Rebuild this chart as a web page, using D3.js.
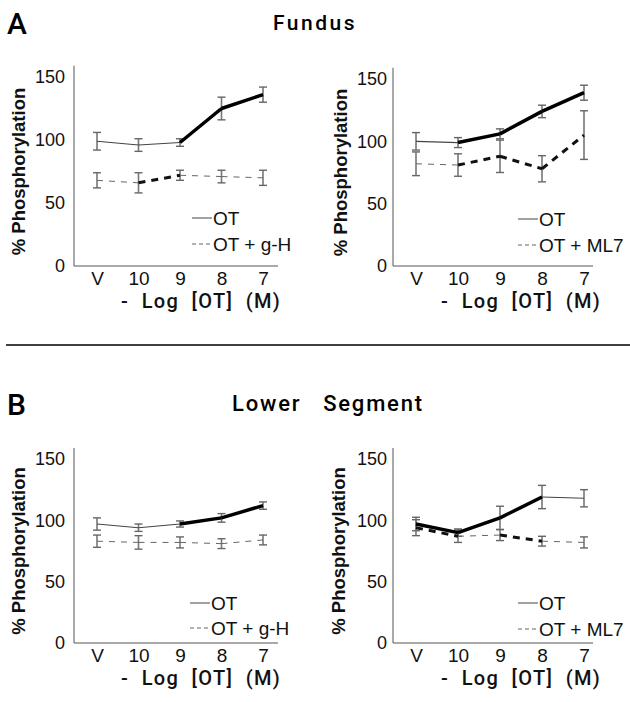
<!DOCTYPE html>
<html><head><meta charset="utf-8">
<script src="https://cdn.jsdelivr.net/npm/d3@7"></script>
<style>body{margin:0;background:#fff}</style>
</head><body>
<svg id="c" width="630" height="702"></svg>
<script>
// ---------- data ----------
const doses = ["V", "10", "9", "8", "7"];
const yTicks = [0, 50, 100, 150];

// Fundus: OT vs OT + g-H
const fundusOT1 = [99, 96, 98, 125, 136];
const fundusOT1Err = [7, 5, 3, 9, 6];
const fundusGH = [68, 66, 72, 71, 70];
const fundusGHErr = [6, 8, 4, 5, 6];
const fundusOT1Bold = [0, 0, 1, 1];
const fundusGHBold = [0, 1, 0, 0];

// Fundus: OT vs OT + ML7
const fundusOT2 = [100, 99, 106, 124, 139];
const fundusOT2Err = [7, 4, 4, 5, 6];
const fundusML7 = [82, 81, 88, 78, 105];
const fundusML7Err = [9.5, 9, 13, 10.5, 19.5];
const fundusOT2Bold = [0, 1, 1, 1];
const fundusML7Bold = [0, 1, 1, 1];

// Lower Segment: OT vs OT + g-H
const lowerOT1 = [97, 94, 97, 102, 112];
const lowerOT1Err = [5, 3, 2.5, 3.5, 3];
const lowerGH = [83, 82, 82, 81, 84];
const lowerGHErr = [5, 5.5, 4.5, 4, 4];
const lowerOT1Bold = [0, 0, 1, 1];
const lowerGHBold = [0, 0, 0, 0];

// Lower Segment: OT vs OT + ML7
const lowerOT2 = [97, 90, 102, 119, 118];
const lowerOT2Err = [5.5, 3, 9.5, 9.5, 7];
const lowerML7 = [94, 87, 88, 83, 82];
const lowerML7Err = [6.5, 5, 4.5, 4, 4.5];
const lowerOT2Bold = [1, 1, 1, 0];
const lowerML7Bold = [1, 0, 1, 0];

const yLabel = "% Phosphorylation";
const xLabel = "-  Log  [OT]  (M)";

// ---------- drawing ----------
const svg = d3.select("#c");
const TICKFONT = "'Liberation Sans', Arial, sans-serif";

function panel(cfg) {
  const g = svg.append("g");
  const x = d3.scalePoint().domain(doses).range([cfg.px0, cfg.px1]);
  const y = d3.scaleLinear().domain([0, 150]).range([cfg.y0, cfg.y150]);

  // axes
  const ya = g.append("g").attr("transform", `translate(${cfg.ax},0)`)
    .call(d3.axisLeft(y).tickValues(yTicks).tickSize(0).tickPadding(cfg.ytp));
  ya.select(".domain").remove();
  ya.selectAll("text").attr("font-family", TICKFONT).attr("font-size", 18).attr("fill", "#111");

  const xa = g.append("g").attr("transform", `translate(0,${y(0)})`)
    .call(d3.axisBottom(x).tickSize(0).tickPadding(6));
  xa.select(".domain").remove();
  xa.selectAll("text").attr("font-family", TICKFONT).attr("font-size", 19).attr("fill", "#111");

  g.append("line").attr("x1", cfg.ax).attr("x2", cfg.ax)
    .attr("y1", y(0)).attr("y2", y(159)).attr("stroke", "#555").attr("stroke-width", 1);
  g.append("line").attr("x1", cfg.ax).attr("x2", cfg.axEnd)
    .attr("y1", y(0)).attr("y2", y(0)).attr("stroke", "#555").attr("stroke-width", 1);

  // y label
  g.append("text")
    .attr("transform", `translate(${cfg.ylx},${(y(0) + y(150)) / 2}) rotate(-90)`)
    .attr("text-anchor", "middle").attr("dominant-baseline", "middle")
    .attr("font-family", TICKFONT).attr("font-weight", "bold").attr("font-size", 18.5)
    .attr("fill", "#111").text(yLabel);

  // x label
  g.append("text").attr("x", cfg.xlx).attr("y", y(0) + 42)
    .attr("text-anchor", "middle")
    .attr("font-family", "Roboto, sans-serif").attr("font-weight", 500).attr("font-size", 20)
    .attr("letter-spacing", 1.3)
    .style("white-space", "pre").attr("fill", "#111").text(xLabel);

  // series
  const series = [
    { v: cfg.ot, e: cfg.otErr, b: cfg.otBold, dashed: false },
    { v: cfg.dr, e: cfg.drErr, b: cfg.drBold, dashed: true }
  ];
  // error bars
  series.forEach(s => {
    doses.forEach((d, i) => {
      const cx = x(d), t = y(s.v[i] + s.e[i]), bt = y(s.v[i] - s.e[i]);
      g.append("line").attr("x1", cx).attr("x2", cx).attr("y1", t).attr("y2", bt)
        .attr("stroke", "#777").attr("stroke-width", 1.6);
      [t, bt].forEach(yy => g.append("line").attr("x1", cx - 4).attr("x2", cx + 4)
        .attr("y1", yy).attr("y2", yy).attr("stroke", "#666").attr("stroke-width", 1.4));
    });
  });
  // line segments
  series.forEach(s => {
    for (let i = 0; i < doses.length - 1; i++) {
      const bold = s.b[i] === 1;
      const ln = g.append("line")
        .attr("x1", x(doses[i])).attr("y1", y(s.v[i]))
        .attr("x2", x(doses[i + 1])).attr("y2", y(s.v[i + 1]))
        .attr("stroke-linecap", "butt");
      if (s.dashed) {
        ln.attr("stroke", bold ? "#111" : "#666").attr("stroke-width", bold ? 3 : 1)
          .attr("stroke-dasharray", bold ? "7,6" : "6,6");
      } else {
        ln.attr("stroke", bold ? "#000" : "#444").attr("stroke-width", bold ? 3.5 : 1.1);
      }
    }
  });

  // legend
  const leg = [
    { t: "OT", dashed: false, y: cfg.ly1 },
    { t: cfg.drLabel, dashed: true, y: cfg.ly2 }
  ];
  leg.forEach(l => {
    g.append("line").attr("x1", cfg.lx).attr("x2", cfg.lx + 20)
      .attr("y1", l.y).attr("y2", l.y)
      .attr("stroke", l.dashed ? "#666" : "#444").attr("stroke-width", 1)
      .attr("stroke-dasharray", l.dashed ? "4,3" : null);
    g.append("text").attr("x", cfg.lx + 21).attr("y", l.y)
      .attr("dominant-baseline", "central")
      .attr("font-family", TICKFONT).attr("font-size", 19).attr("fill", "#111").text(l.t);
  });
}

panel({ ot: fundusOT1, otErr: fundusOT1Err, otBold: fundusOT1Bold,
        dr: fundusGH, drErr: fundusGHErr, drBold: fundusGHBold, drLabel: "OT + g-H",
        px0: 97, px1: 263, ax: 74, axEnd: 278, y0: 266, y150: 77, ytp: 9,
        ylx: 20, xlx: 201, lx: 192, ly1: 218, ly2: 244 });
panel({ ot: fundusOT2, otErr: fundusOT2Err, otBold: fundusOT2Bold,
        dr: fundusML7, drErr: fundusML7Err, drBold: fundusML7Bold, drLabel: "OT + ML7",
        px0: 416, px1: 584, ax: 393, axEnd: 593, y0: 266, y150: 79, ytp: 6,
        ylx: 342, xlx: 521, lx: 518, ly1: 219, ly2: 245 });
panel({ ot: lowerOT1, otErr: lowerOT1Err, otBold: lowerOT1Bold,
        dr: lowerGH, drErr: lowerGHErr, drBold: lowerGHBold, drLabel: "OT + g-H",
        px0: 97, px1: 263, ax: 74, axEnd: 278, y0: 643, y150: 459, ytp: 9,
        ylx: 20, xlx: 201, lx: 190, ly1: 603, ly2: 628 });
panel({ ot: lowerOT2, otErr: lowerOT2Err, otBold: lowerOT2Bold,
        dr: lowerML7, drErr: lowerML7Err, drBold: lowerML7Bold, drLabel: "OT + ML7",
        px0: 416, px1: 584, ax: 393, axEnd: 593, y0: 643, y150: 459, ytp: 6,
        ylx: 340, xlx: 521, lx: 518, ly1: 603, ly2: 629 });

// titles
const TF = "Roboto, sans-serif";
svg.append("text").attr("x", 7).attr("y", 34).attr("font-family", TF).attr("font-weight", 500)
  .attr("font-size", 30).attr("fill", "#000").text("A");
svg.append("text").attr("x", 7).attr("y", 415).attr("font-family", TF).attr("font-weight", 500)
  .attr("font-size", 30).attr("fill", "#000").text("B");
svg.append("text").attr("x", 315).attr("y", 30).attr("text-anchor", "middle")
  .attr("font-family", TF).attr("font-weight", 500).attr("font-size", 21)
  .attr("letter-spacing", 2.5).attr("fill", "#000").text("Fundus");
svg.append("text").attr("x", 328).attr("y", 411).attr("text-anchor", "middle")
  .attr("font-family", TF).attr("font-weight", 500).attr("font-size", 22)
  .attr("letter-spacing", 1.8).style("white-space", "pre").attr("fill", "#000").text("Lower   Segment");
svg.append("line").attr("x1", 6).attr("x2", 630).attr("y1", 345).attr("y2", 345)
  .attr("stroke", "#000").attr("stroke-width", 1.5);
</script>
</body></html>
